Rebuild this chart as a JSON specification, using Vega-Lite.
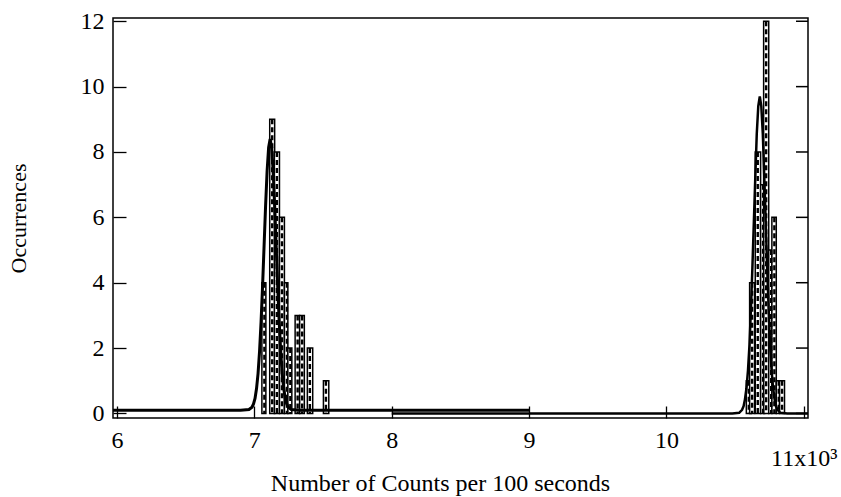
{
  "$schema": "https://vega.github.io/schema/vega-lite/v6.json",
  "width": 695,
  "height": 400,
  "autosize": {"type": "none"},
  "padding": {"left": 113, "top": 18, "right": 33, "bottom": 79},
  "config": {
    "view": {"stroke": "black", "strokeWidth": 1.5},
    "font": "Liberation Serif",
    "axis": {
      "grid": false,
      "domain": false,
      "tickColor": "black",
      "tickWidth": 1.3,
      "labelColor": "black",
      "labelFont": "Liberation Serif",
      "labelFontSize": 24,
      "titleFont": "Liberation Serif",
      "titleFontSize": 24,
      "titleFontWeight": "normal",
      "titleColor": "black"
    }
  },
  "datasets": {
    "bars": [
      {"lo": 7055, "hi": 7084, "count": 4},
      {"lo": 7112, "hi": 7148, "count": 9},
      {"lo": 7146, "hi": 7183, "count": 8},
      {"lo": 7183, "hi": 7219, "count": 6},
      {"lo": 7219, "hi": 7244, "count": 4},
      {"lo": 7244, "hi": 7273, "count": 2},
      {"lo": 7297, "hi": 7330, "count": 3},
      {"lo": 7330, "hi": 7364, "count": 3},
      {"lo": 7386, "hi": 7425, "count": 2},
      {"lo": 7503, "hi": 7542, "count": 1},
      {"lo": 10582, "hi": 10618, "count": 1},
      {"lo": 10606, "hi": 10642, "count": 4},
      {"lo": 10647, "hi": 10686, "count": 8},
      {"lo": 10686, "hi": 10715, "count": 7},
      {"lo": 10708, "hi": 10745, "count": 12},
      {"lo": 10745, "hi": 10768, "count": 5},
      {"lo": 10768, "hi": 10800, "count": 6},
      {"lo": 10800, "hi": 10824, "count": 1},
      {"lo": 10824, "hi": 10860, "count": 1}
    ],
    "fitLeft": [
      {"x": 5971, "y": 0.1}, {"x": 6900, "y": 0.1}, {"x": 6961, "y": 0.12},
      {"x": 6983, "y": 0.19}, {"x": 6994, "y": 0.29}, {"x": 7005, "y": 0.46},
      {"x": 7016, "y": 0.76}, {"x": 7027, "y": 1.22}, {"x": 7038, "y": 1.9},
      {"x": 7049, "y": 2.8}, {"x": 7060, "y": 3.9}, {"x": 7071, "y": 5.13},
      {"x": 7082, "y": 6.36}, {"x": 7093, "y": 7.42}, {"x": 7104, "y": 8.14},
      {"x": 7115, "y": 8.4}, {"x": 7126, "y": 8.14}, {"x": 7137, "y": 7.42},
      {"x": 7148, "y": 6.36}, {"x": 7159, "y": 5.13}, {"x": 7170, "y": 3.9},
      {"x": 7181, "y": 2.8}, {"x": 7192, "y": 1.9}, {"x": 7203, "y": 1.22},
      {"x": 7214, "y": 0.76}, {"x": 7225, "y": 0.46}, {"x": 7236, "y": 0.29},
      {"x": 7247, "y": 0.19}, {"x": 7269, "y": 0.12}, {"x": 7330, "y": 0.1},
      {"x": 9000, "y": 0.1}
    ],
    "fitRight": [
      {"x": 8000, "y": 0}, {"x": 10480, "y": 0}, {"x": 10530, "y": 0.02},
      {"x": 10551, "y": 0.11}, {"x": 10562, "y": 0.22}, {"x": 10572, "y": 0.43},
      {"x": 10583, "y": 0.77}, {"x": 10594, "y": 1.31}, {"x": 10605, "y": 2.1},
      {"x": 10615, "y": 3.15}, {"x": 10626, "y": 4.44}, {"x": 10637, "y": 5.88},
      {"x": 10648, "y": 7.32}, {"x": 10658, "y": 8.56}, {"x": 10669, "y": 9.4},
      {"x": 10680, "y": 9.7}, {"x": 10691, "y": 9.4}, {"x": 10702, "y": 8.56},
      {"x": 10712, "y": 7.32}, {"x": 10723, "y": 5.88}, {"x": 10734, "y": 4.44},
      {"x": 10745, "y": 3.15}, {"x": 10755, "y": 2.1}, {"x": 10766, "y": 1.31},
      {"x": 10777, "y": 0.77}, {"x": 10788, "y": 0.43}, {"x": 10798, "y": 0.22},
      {"x": 10809, "y": 0.11}, {"x": 10830, "y": 0.02}, {"x": 10880, "y": 0},
      {"x": 11031, "y": 0}
    ],
    "rightTicks": [
      {"v": 0}, {"v": 2}, {"v": 4}, {"v": 6}, {"v": 8}, {"v": 10}, {"v": 12}
    ]
  },
  "layer": [
    {
      "data": {"name": "bars"},
      "mark": {"type": "rect", "fill": "white", "stroke": "black", "strokeWidth": 1.5},
      "encoding": {
        "x": {
          "field": "lo", "type": "quantitative",
          "scale": {"domain": [5971, 11031], "nice": false, "zero": false},
          "axis": {
            "orient": "bottom",
            "values": [6000, 7000, 8000, 9000, 10000, 11000],
            "labelExpr": "datum.value == 11000 ? ['', '11x10³'] : format(datum.value / 1000, 'd')",
            "labelLineHeight": 18,
            "tickSize": -12,
            "labelPadding": 22,
            "title": "Number of Counts per 100 seconds",
            "titlePadding": 1,
            "titleX": 327
          }
        },
        "x2": {"field": "hi"},
        "y": {
          "field": "count", "type": "quantitative",
          "scale": {"domain": [-0.14, 12.1], "nice": false, "zero": false},
          "axis": {
            "orient": "left",
            "values": [0, 2, 4, 6, 8, 10, 12],
            "tickSize": -13,
            "labelPadding": 22,
            "title": "Occurrences",
            "titleFontSize": 22,
            "titlePadding": 50
          }
        },
        "y2": {"datum": 0}
      }
    },
    {
      "data": {"name": "bars"},
      "mark": {"type": "rule", "stroke": "black", "strokeWidth": 2.4, "strokeDash": [5, 3], "xOffset": 2.5},
      "encoding": {
        "x": {"field": "lo", "type": "quantitative"},
        "y": {"field": "count", "type": "quantitative"},
        "y2": {"datum": 0}
      }
    },
    {
      "data": {"name": "rightTicks"},
      "mark": {"type": "tick", "orient": "horizontal", "size": 12, "thickness": 1.5, "xOffset": -6, "color": "black", "opacity": 1},
      "encoding": {
        "x": {"datum": 11031, "type": "quantitative"},
        "y": {"field": "v", "type": "quantitative"}
      }
    },
    {
      "data": {"name": "fitLeft"},
      "mark": {"type": "line", "stroke": "black", "strokeWidth": 3, "clip": true},
      "encoding": {
        "x": {"field": "x", "type": "quantitative"},
        "y": {"field": "y", "type": "quantitative"}
      }
    },
    {
      "data": {"name": "fitRight"},
      "mark": {"type": "line", "stroke": "black", "strokeWidth": 2.5, "clip": true},
      "encoding": {
        "x": {"field": "x", "type": "quantitative"},
        "y": {"field": "y", "type": "quantitative"}
      }
    }
  ]
}
